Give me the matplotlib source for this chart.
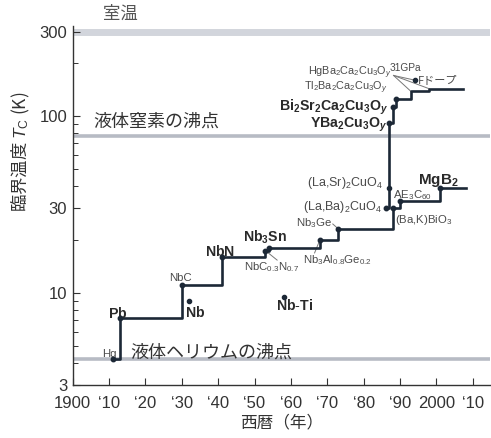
import numpy as np
import matplotlib
matplotlib.use("Agg")
import matplotlib.pyplot as plt
from matplotlib.ticker import FixedLocator, NullFormatter

plt.rcParams['font.family'] = ['Liberation Sans', 'Noto Sans CJK JP', 'DejaVu Sans']
plt.rcParams['mathtext.fontset'] = 'custom'
plt.rcParams['mathtext.rm'] = 'Liberation Sans'
plt.rcParams['mathtext.it'] = 'Liberation Sans:italic'
plt.rcParams['mathtext.bf'] = 'Liberation Sans:bold'
plt.rcParams['mathtext.bfit'] = 'Liberation Sans:italic:bold'

JP = ['Noto Sans CJK JP', 'DejaVu Sans']

# 金属・合金などの最高Tc (階段)
metal_years = [1911, 1913, 1930, 1941, 1953, 1954, 1968, 1973, 1988, 1990, 2001, 2008]
metal_tc = [4.2, 7.2, 11.0, 16.0, 17.3, 17.8, 20.0, 23.0, 30.0, 33.0, 39.0, 39.0]
metal_dot = [True, True, True, True, True, True, True, True, True, True, True, False]

# 銅酸化物
cuprate_years = [1986, 1987, 1988, 1988.8, 1993, 1998, 2007.3]
cuprate_tc = [30.0, 92.0, 113.0, 125.0, 138.0, 143.0, 143.0]
cuprate_dot = [True, True, True, True, False, False, False]
lasr = (1987, 39.0)
hg_pressure = (1994, 160.0)

# 単独の点
nb = (1932, 9.0)
nbti = (1958, 9.5)

# 基準温度
room_t = 300
n2_t = 77
he_t = 4.2

xticks = list(range(1900, 2011, 10))
xticklabels = ['1900', '‘10', '‘20', '‘30', '‘40', '‘50', '‘60', '‘70', '‘80', '‘90', '2000', '‘10']
yticks = [3, 10, 30, 100, 300]
yminor = [4, 5, 6, 7, 8, 9, 20, 40, 50, 60, 70, 80, 90, 200]

LINE = '#1c2836'
GRAY = '#4a4a4a'

fig = plt.figure(figsize=(4.91, 4.38), dpi=100)
ax = fig.add_axes([0.1479, 0.121, 0.850, 0.8196])
ax.set_yscale('log')
ax.set_xlim(1900, 2014.7)
ax.set_ylim(3, 324)

# reference lines
ax.axhline(room_t, xmin=0.006, xmax=0.995, color='#d2d5dc', lw=5.0, zorder=1)
ax.axhline(n2_t, color='#b7bbc4', lw=2.6, zorder=1)
ax.axhline(he_t, color='#b7bbc4', lw=2.6, zorder=1)

ax.text(1913, 380, '室温', fontsize=12.5, family=JP, color='#555555', ha='center', va='center')
ax.text(1905.6, 93, '液体窒素の沸点', fontsize=13, family=JP, color='#333333', ha='left', va='center')
ax.text(1915.8, 4.6, '液体ヘリウムの沸点', fontsize=13, family=JP, color='#333333', ha='left', va='center')

# step lines
ax.plot(metal_years, metal_tc, drawstyle='steps-post', color=LINE, lw=1.9, zorder=3)
ax.plot(cuprate_years, cuprate_tc, drawstyle='steps-post', color=LINE, lw=1.9, zorder=3)

mx = [x for x, d in zip(metal_years, metal_dot) if d]
my = [y for y, d in zip(metal_tc, metal_dot) if d]
cx = [x for x, d in zip(cuprate_years, cuprate_dot) if d]
cy = [y for y, d in zip(cuprate_tc, cuprate_dot) if d]
ax.plot(mx, my, 'o', color=LINE, ms=3.2, zorder=4)
ax.plot(cx, cy, 'o', color=LINE, ms=3.2, zorder=4)
for p in [lasr, hg_pressure, nb, nbti]:
    ax.plot(*p, 'o', color=LINE, ms=3.0, zorder=4)

# labels
small = dict(fontsize=8.2, color=GRAY)
mid = dict(fontsize=9, color=GRAY)
bold = dict(fontsize=10.2, color='#2a2a2a')

ax.text(1910.1, 4.49, 'Hg', ha='center', va='center', **small)
ax.text(1912.3, 7.67, r'$\mathbf{Pb}$', ha='center', va='center', **bold)
ax.text(1929.5, 12.1, 'NbC', ha='center', va='center', **small)
ax.text(1933.6, 7.7, r'$\mathbf{Nb}$', ha='center', va='center', **bold)
ax.text(1940.5, 17.2, r'$\mathbf{NbN}$', ha='center', va='center', **bold)
ax.text(1953.0, 20.7, r'$\mathbf{Nb_3Sn}$', ha='center', va='center', **bold)
ax.text(1954.6, 13.9, r'NbC$_{0.3}$N$_{0.7}$', ha='center', va='center', **small)
ax.text(1961.0, 8.5, r'$\mathbf{Nb\text{-}Ti}$', ha='center', va='center', **bold)
ax.text(1971.3, 24.8, r'Nb$_3$Ge', ha='right', va='center', **small)
ax.text(1963.3, 15.3, r'Nb$_3$Al$_{0.8}$Ge$_{0.2}$', ha='left', va='center', **small)
ax.text(1985.0, 30.7, r'(La,Ba)$_2$CuO$_4$', ha='right', va='center', **mid)
ax.text(1985.3, 41.8, r'(La,Sr)$_2$CuO$_4$', ha='right', va='center', **mid)
ax.text(1988.0, 35.9, r'AE$_3$C$_{60}$', ha='left', va='center', **small)
ax.text(1988.6, 25.8, r'(Ba,K)BiO$_3$', ha='left', va='center', **small)
ax.text(2000.4, 43.4, r'$\mathbf{MgB_2}$', ha='center', va='center', fontsize=11, color='#2a2a2a')
ax.text(1986.4, 89, r'$\mathbf{YBa_2Cu_3O}_{\mathbfit{y}}$', ha='right', va='center', **bold)
ax.text(1986.6, 112, r'$\mathbf{Bi_2Sr_2Ca_2Cu_3O}_{\mathbfit{y}}$', ha='right', va='center', **bold)
ax.text(1986.6, 145, r'Tl$_2$Ba$_2$Ca$_2$Cu$_3$O$_y$', ha='right', va='center', fontsize=7.8, color=GRAY)
ax.text(1987.7, 176, r'HgBa$_2$Ca$_2$Cu$_3$O$_y$', ha='right', va='center', fontsize=7.8, color=GRAY)
ax.text(1991.5, 188, '31GPa', ha='center', va='center', fontsize=7.3, color=GRAY)
ax.text(1994.9, 160.4, 'Fドープ', ha='left', va='center', fontsize=8, color=GRAY, family=JP)

# leader lines
lk = dict(color='#777777', lw=0.7, zorder=2)
ax.plot([1971.5, 1973], [24.5, 23.0], **lk)
ax.plot([1968, 1966.5], [20.0, 16.8], **lk)
ax.plot([1953, 1956.2], [17.3, 15.3], **lk)
for tgt in [hg_pressure, (1993, 138.0), (1998, 143.0)]:
    ax.plot([1988.2, tgt[0]], [170, tgt[1]], **lk)

# axes styling
for s in ['top', 'right']:
    ax.spines[s].set_visible(False)
for s in ['left', 'bottom']:
    ax.spines[s].set_color('#333333')
    ax.spines[s].set_linewidth(1.0)

ax.set_xticks(xticks)
ax.set_xticklabels(xticklabels)
ax.yaxis.set_major_locator(FixedLocator(yticks))
ax.set_yticklabels([str(v) for v in yticks])
ax.yaxis.set_minor_locator(FixedLocator(yminor))
ax.yaxis.set_minor_formatter(NullFormatter())
ax.tick_params(axis='both', which='major', direction='in', length=5, width=0.8,
               labelsize=12, colors='#333333', pad=4)
ax.tick_params(axis='x', which='major', pad=8)
ax.tick_params(axis='y', which='minor', direction='in', length=3.5, width=0.7, colors='#333333')

fig.text(0.148 + 0.85 / 2, 1 - 423 / 438, '西暦（年）', fontsize=12, family=JP,
         ha='center', va='center', color='#333333')
fig.text(20 / 491, 1 - 152 / 438, '臨界温度 $T_\\mathrm{C}$ (K)', fontsize=12.5, family=JP,
         rotation=90, ha='center', va='center', color='#333333')

fig.savefig('out.png', dpi=100)
